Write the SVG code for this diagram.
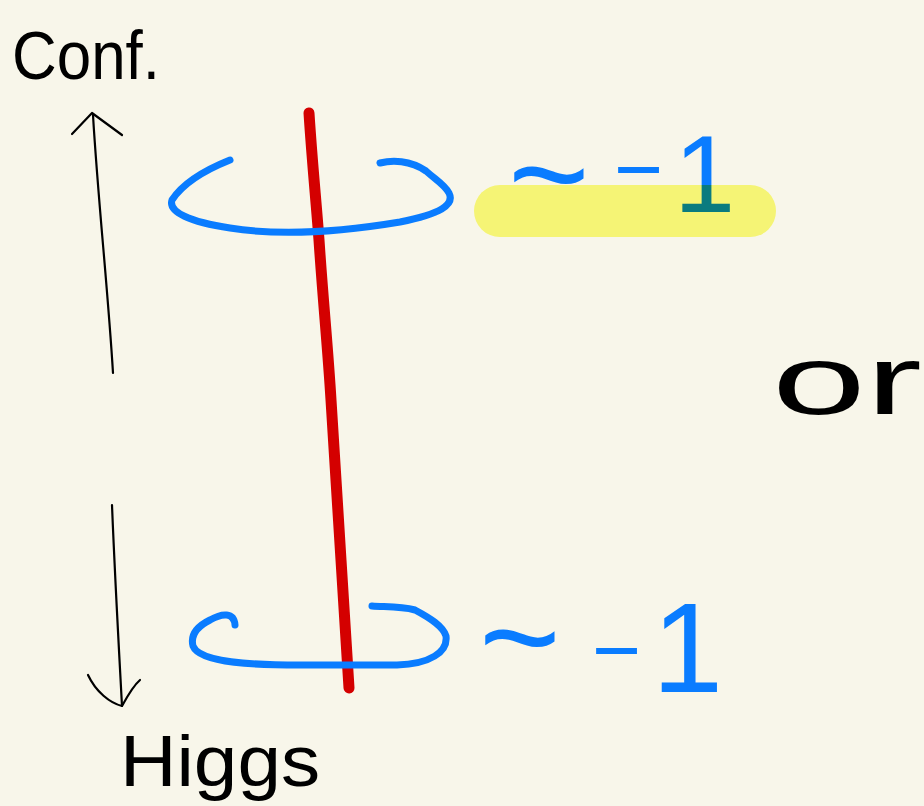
<svg xmlns="http://www.w3.org/2000/svg" width="924" height="806" viewBox="0 0 924 806">
<style>
.ink{fill:none;stroke:#000;stroke-width:2.2;stroke-linecap:round;stroke-linejoin:round}
.blue{fill:none;stroke:#0a7cff;stroke-width:7;stroke-linecap:round;stroke-linejoin:round}
.red{fill:none;stroke:#d40000;stroke-width:11;stroke-linecap:round;stroke-linejoin:round}
.hand{font-family:"Liberation Sans",Arial,sans-serif;fill:#000}
.bt{font-family:"Liberation Sans",Arial,sans-serif;fill:#0a7cff}
</style>
<rect width="924" height="806" fill="#f8f6ea"/>
<g id="conf-label"><text class="hand" x="12" y="79" font-size="68" textLength="148" lengthAdjust="spacingAndGlyphs">Conf.</text></g>
<g id="higgs-label"><text class="hand" x="120" y="786" font-size="72" textLength="200" lengthAdjust="spacingAndGlyphs">Higgs</text></g>
<g id="or-label"><text class="hand" x="772" y="414" font-size="98" textLength="150" lengthAdjust="spacingAndGlyphs">or</text></g>
<g id="axis">
<path class="ink" d="M113,373 C108,290 98,200 93,115"/>
<path class="ink" d="M72,134 L92,113 L122,135"/>
<path class="ink" d="M112,505 C115,580 119,650 122,706"/>
<path class="ink" d="M88,675 C96,692 110,703 122,706 C128,695 133,686 140,680"/>
</g>
<g id="red-line"><path class="red" d="M309,113 C312,160 316,200 319,240 C323,300 328,350 331,400 C335,470 338,520 341,560 C345,620 347,660 349,688"/></g>
<g id="top-loop"><path class="blue" d="M230,160 C210,168 185,180 172,200 C168,212 190,222 230,228 C280,236 340,232 400,222 C440,214 455,205 449,193 C445,185 436,180 426,171 C410,160 392,160 380,163"/></g>
<g id="bottom-loop"><path class="blue" d="M235,625 C234,612 222,613 210,620 C198,626 190,634 193,646 C200,664 260,665 300,665 L397,665 C430,664 448,652 446,636 C443,626 430,618 415,610 C400,606 385,607 372,606"/></g>
<g id="top-value">
<text class="bt" x="508" y="222" font-size="140">~</text>
<text class="bt" x="614" y="198" font-size="84">−</text>
<text class="bt" x="674" y="212" font-size="110">1</text>
</g>
<g id="bottom-value">
<text class="bt" x="479" y="685" font-size="140">~</text>
<text class="bt" x="592" y="679" font-size="84">−</text>
<text class="bt" x="652" y="692" font-size="128">1</text>
</g>
<g id="highlight"><rect x="474" y="185" width="302" height="52" rx="26" fill="#fcfd7f" style="mix-blend-mode:multiply"/></g>
</svg>
